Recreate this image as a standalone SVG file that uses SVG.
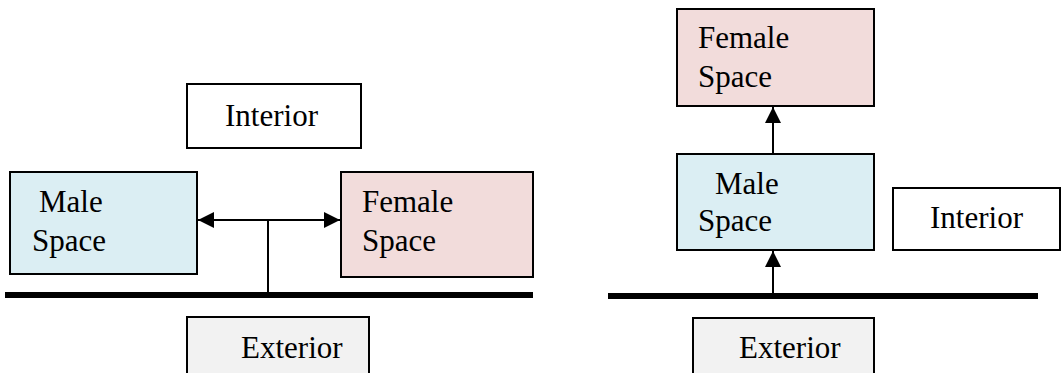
<svg xmlns="http://www.w3.org/2000/svg" width="1061" height="373" viewBox="0 0 1061 373">
<style>
.box{stroke:#000;stroke-width:2}
.white{fill:#fff}
.male{fill:#DBEEF3}
.female{fill:#F2DCDB}
.ext{fill:#F2F2F2}
.lbl{font-family:'Liberation Serif','DejaVu Serif',serif;font-size:31px;fill:#000}
.conn{stroke:#000;stroke-width:2;fill:none}
.bar{stroke:#000;stroke-width:6}
</style>
<defs>
<marker id="arr" viewBox="0 0 10 10" refX="10" refY="5" markerWidth="8" markerHeight="8" markerUnits="strokeWidth" orient="auto">
<path d="M0,0 L10,5 L0,10 Z" fill="#000"/>
</marker>
</defs>
<rect width="1061" height="373" fill="#fff"/>
<g id="left-interior"><rect class="box white" x="187" y="84" width="174" height="64"/><text class="lbl" font-family="Liberation Serif, serif" x="225" y="126">Interior</text></g>
<g id="left-male"><rect class="box male" x="10" y="172" width="187" height="102"/><text class="lbl" font-family="Liberation Serif, serif" x="39" y="212">Male</text><text class="lbl" font-family="Liberation Serif, serif" x="32" y="251">Space</text></g>
<g id="left-female"><rect class="box female" x="341" y="172" width="192" height="105"/><text class="lbl" font-family="Liberation Serif, serif" x="362" y="212">Female</text><text class="lbl" font-family="Liberation Serif, serif" x="362" y="251">Space</text></g>
<g id="left-exterior"><rect class="box ext" x="187" y="317" width="182" height="70"/><text class="lbl" font-family="Liberation Serif, serif" x="241" y="358">Exterior</text></g>
<g id="right-female"><rect class="box female" x="677" y="9" width="197" height="97"/><text class="lbl" font-family="Liberation Serif, serif" x="698" y="48">Female</text><text class="lbl" font-family="Liberation Serif, serif" x="698" y="87">Space</text></g>
<g id="right-male"><rect class="box male" x="677" y="154" width="197" height="96"/><text class="lbl" font-family="Liberation Serif, serif" x="715" y="194">Male</text><text class="lbl" font-family="Liberation Serif, serif" x="698" y="231">Space</text></g>
<g id="right-interior"><rect class="box white" x="893" y="188" width="167" height="62"/><text class="lbl" font-family="Liberation Serif, serif" x="930" y="228">Interior</text></g>
<g id="right-exterior"><rect class="box ext" x="693" y="318" width="181" height="70"/><text class="lbl" font-family="Liberation Serif, serif" x="739" y="358">Exterior</text></g>
<g id="connectors">
<line class="bar" x1="5" y1="295" x2="533" y2="295"/>
<line class="bar" x1="608" y1="296" x2="1038" y2="296"/>
<line class="conn" x1="268" y1="295" x2="268" y2="220"/>
<line class="conn" x1="268" y1="220" x2="198" y2="220" marker-end="url(#arr)"/>
<line class="conn" x1="268" y1="220" x2="340" y2="220" marker-end="url(#arr)"/>
<line class="conn" x1="773" y1="296" x2="773" y2="251" marker-end="url(#arr)"/>
<line class="conn" x1="773" y1="154" x2="773" y2="107" marker-end="url(#arr)"/>
</g>
</svg>
